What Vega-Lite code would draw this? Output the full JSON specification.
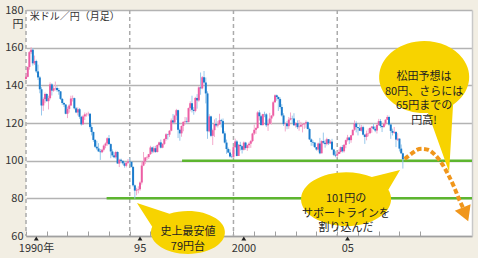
{
  "$schema": "https://vega.github.io/schema/vega-lite/v6.json",
  "width": 446,
  "height": 226,
  "autosize": {"type": "none"},
  "padding": {"left": 26, "top": 10, "right": 6, "bottom": 22},
  "background": "#f2eee3",
  "config": {"view": {"fill": "#ffffff", "stroke": null}, "font": "Noto Sans CJK JP"},
  "datasets": {
    "candles": [
      {"t":"1990-01","o":143.4,"h":146.3,"l":143.1,"c":144.5},
      {"t":"1990-02","o":144.5,"h":150.0,"l":144.2,"c":149.7},
      {"t":"1990-03","o":149.7,"h":158.3,"l":148.3,"c":157.6},
      {"t":"1990-04","o":157.6,"h":160.3,"l":156.6,"c":158.9},
      {"t":"1990-05","o":158.9,"h":159.8,"l":150.5,"c":151.7},
      {"t":"1990-06","o":151.7,"h":155.8,"l":150.8,"c":152.9},
      {"t":"1990-07","o":152.9,"h":153.6,"l":146.5,"c":147.4},
      {"t":"1990-08","o":147.4,"h":151.0,"l":142.8,"c":144.2},
      {"t":"1990-09","o":144.2,"h":145.0,"l":135.8,"c":137.9},
      {"t":"1990-10","o":137.9,"h":139.0,"l":124.0,"c":129.3},
      {"t":"1990-11","o":129.3,"h":133.6,"l":126.4,"c":132.7},
      {"t":"1990-12","o":132.7,"h":136.2,"l":130.5,"c":135.4},
      {"t":"1991-01","o":135.4,"h":135.8,"l":131.3,"c":131.6},
      {"t":"1991-02","o":131.6,"h":134.5,"l":127.2,"c":133.2},
      {"t":"1991-03","o":133.2,"h":141.6,"l":132.5,"c":140.5},
      {"t":"1991-04","o":140.5,"h":141.1,"l":134.6,"c":137.2},
      {"t":"1991-05","o":137.2,"h":140.2,"l":136.6,"c":138.4},
      {"t":"1991-06","o":138.4,"h":142.0,"l":137.3,"c":138.6},
      {"t":"1991-07","o":138.6,"h":139.6,"l":136.6,"c":137.5},
      {"t":"1991-08","o":137.5,"h":138.6,"l":135.0,"c":136.8},
      {"t":"1991-09","o":136.8,"h":136.9,"l":132.2,"c":132.8},
      {"t":"1991-10","o":132.8,"h":133.3,"l":129.6,"c":130.6},
      {"t":"1991-11","o":130.6,"h":131.0,"l":128.5,"c":129.8},
      {"t":"1991-12","o":129.8,"h":130.1,"l":124.6,"c":124.9},
      {"t":"1992-01","o":124.9,"h":128.7,"l":122.6,"c":127.5},
      {"t":"1992-02","o":127.5,"h":130.0,"l":125.5,"c":129.3},
      {"t":"1992-03","o":129.3,"h":134.5,"l":129.0,"c":133.0},
      {"t":"1992-04","o":133.0,"h":134.6,"l":131.4,"c":133.2},
      {"t":"1992-05","o":133.2,"h":133.5,"l":127.2,"c":127.8},
      {"t":"1992-06","o":127.8,"h":128.5,"l":125.2,"c":125.6},
      {"t":"1992-07","o":125.6,"h":128.3,"l":124.0,"c":127.3},
      {"t":"1992-08","o":127.3,"h":128.0,"l":122.2,"c":123.3},
      {"t":"1992-09","o":123.3,"h":123.8,"l":118.6,"c":119.3},
      {"t":"1992-10","o":119.3,"h":124.3,"l":119.0,"c":123.5},
      {"t":"1992-11","o":123.5,"h":125.6,"l":121.6,"c":124.6},
      {"t":"1992-12","o":124.6,"h":125.4,"l":123.4,"c":124.7},
      {"t":"1993-01","o":124.7,"h":126.0,"l":123.6,"c":124.9},
      {"t":"1993-02","o":124.9,"h":125.3,"l":117.0,"c":117.9},
      {"t":"1993-03","o":117.9,"h":119.3,"l":113.4,"c":115.2},
      {"t":"1993-04","o":115.2,"h":115.5,"l":110.0,"c":111.0},
      {"t":"1993-05","o":111.0,"h":111.5,"l":106.8,"c":107.4},
      {"t":"1993-06","o":107.4,"h":110.5,"l":105.6,"c":106.5},
      {"t":"1993-07","o":106.5,"h":109.3,"l":104.7,"c":104.9},
      {"t":"1993-08","o":104.9,"h":106.2,"l":100.4,"c":104.5},
      {"t":"1993-09","o":104.5,"h":106.3,"l":104.0,"c":105.8},
      {"t":"1993-10","o":105.8,"h":108.6,"l":104.9,"c":108.0},
      {"t":"1993-11","o":108.0,"h":109.7,"l":106.6,"c":109.1},
      {"t":"1993-12","o":109.1,"h":112.4,"l":107.9,"c":111.9},
      {"t":"1994-01","o":111.9,"h":113.6,"l":108.3,"c":108.8},
      {"t":"1994-02","o":108.8,"h":109.2,"l":101.3,"c":104.9},
      {"t":"1994-03","o":104.9,"h":106.0,"l":101.9,"c":102.8},
      {"t":"1994-04","o":102.8,"h":104.4,"l":101.3,"c":101.8},
      {"t":"1994-05","o":101.8,"h":105.3,"l":101.1,"c":104.6},
      {"t":"1994-06","o":104.6,"h":105.0,"l":98.3,"c":98.5},
      {"t":"1994-07","o":98.5,"h":101.0,"l":96.6,"c":100.5},
      {"t":"1994-08","o":100.5,"h":101.1,"l":98.7,"c":99.9},
      {"t":"1994-09","o":99.9,"h":100.1,"l":97.9,"c":98.6},
      {"t":"1994-10","o":98.6,"h":99.4,"l":96.3,"c":97.3},
      {"t":"1994-11","o":97.3,"h":99.3,"l":96.4,"c":98.9},
      {"t":"1994-12","o":98.9,"h":100.9,"l":98.3,"c":99.6},
      {"t":"1995-01","o":99.6,"h":101.5,"l":98.0,"c":99.4},
      {"t":"1995-02","o":99.4,"h":99.5,"l":96.4,"c":96.7},
      {"t":"1995-03","o":96.7,"h":97.0,"l":86.2,"c":86.9},
      {"t":"1995-04","o":86.9,"h":87.3,"l":79.8,"c":84.1},
      {"t":"1995-05","o":84.1,"h":85.6,"l":81.6,"c":84.5},
      {"t":"1995-06","o":84.5,"h":86.4,"l":82.6,"c":84.8},
      {"t":"1995-07","o":84.8,"h":89.0,"l":84.0,"c":88.4},
      {"t":"1995-08","o":88.4,"h":99.5,"l":87.3,"c":97.4},
      {"t":"1995-09","o":97.4,"h":104.6,"l":97.1,"c":99.6},
      {"t":"1995-10","o":99.6,"h":101.9,"l":98.2,"c":101.7},
      {"t":"1995-11","o":101.7,"h":102.6,"l":100.4,"c":101.9},
      {"t":"1995-12","o":101.9,"h":103.6,"l":100.9,"c":103.5},
      {"t":"1996-01","o":103.5,"h":107.9,"l":103.0,"c":107.0},
      {"t":"1996-02","o":107.0,"h":107.4,"l":103.9,"c":104.8},
      {"t":"1996-03","o":104.8,"h":107.7,"l":104.0,"c":106.6},
      {"t":"1996-04","o":106.6,"h":107.9,"l":104.1,"c":104.6},
      {"t":"1996-05","o":104.6,"h":108.7,"l":104.3,"c":108.3},
      {"t":"1996-06","o":108.3,"h":110.1,"l":107.6,"c":109.7},
      {"t":"1996-07","o":109.7,"h":111.2,"l":106.5,"c":106.9},
      {"t":"1996-08","o":106.9,"h":109.3,"l":106.6,"c":108.9},
      {"t":"1996-09","o":108.9,"h":111.9,"l":108.3,"c":111.5},
      {"t":"1996-10","o":111.5,"h":114.6,"l":110.6,"c":114.0},
      {"t":"1996-11","o":114.0,"h":114.3,"l":111.2,"c":113.8},
      {"t":"1996-12","o":113.8,"h":116.2,"l":112.6,"c":115.9},
      {"t":"1997-01","o":115.9,"h":122.4,"l":115.6,"c":121.4},
      {"t":"1997-02","o":121.4,"h":124.8,"l":119.8,"c":120.3},
      {"t":"1997-03","o":120.3,"h":124.4,"l":119.9,"c":123.9},
      {"t":"1997-04","o":123.9,"h":127.5,"l":121.6,"c":126.8},
      {"t":"1997-05","o":126.8,"h":127.1,"l":112.0,"c":116.4},
      {"t":"1997-06","o":116.4,"h":117.0,"l":110.6,"c":114.5},
      {"t":"1997-07","o":114.5,"h":118.7,"l":112.7,"c":118.4},
      {"t":"1997-08","o":118.4,"h":120.9,"l":115.6,"c":120.6},
      {"t":"1997-09","o":120.6,"h":123.2,"l":119.1,"c":120.9},
      {"t":"1997-10","o":120.9,"h":123.0,"l":119.7,"c":120.5},
      {"t":"1997-11","o":120.5,"h":128.2,"l":120.3,"c":127.9},
      {"t":"1997-12","o":127.9,"h":131.5,"l":126.2,"c":130.5},
      {"t":"1998-01","o":130.5,"h":134.5,"l":125.6,"c":127.0},
      {"t":"1998-02","o":127.0,"h":128.5,"l":124.4,"c":126.4},
      {"t":"1998-03","o":126.4,"h":133.9,"l":125.7,"c":133.3},
      {"t":"1998-04","o":133.3,"h":135.3,"l":127.6,"c":132.0},
      {"t":"1998-05","o":132.0,"h":139.5,"l":131.3,"c":138.9},
      {"t":"1998-06","o":138.9,"h":146.8,"l":135.0,"c":138.4},
      {"t":"1998-07","o":138.4,"h":144.9,"l":137.9,"c":144.3},
      {"t":"1998-08","o":144.3,"h":147.6,"l":140.9,"c":141.5},
      {"t":"1998-09","o":141.5,"h":144.2,"l":130.4,"c":135.7},
      {"t":"1998-10","o":135.7,"h":136.8,"l":111.6,"c":115.6},
      {"t":"1998-11","o":115.6,"h":124.7,"l":115.0,"c":123.5},
      {"t":"1998-12","o":123.5,"h":123.9,"l":112.5,"c":113.2},
      {"t":"1999-01","o":113.2,"h":117.0,"l":108.3,"c":116.2},
      {"t":"1999-02","o":116.2,"h":121.9,"l":112.6,"c":119.5},
      {"t":"1999-03","o":119.5,"h":122.6,"l":117.8,"c":118.7},
      {"t":"1999-04","o":118.7,"h":121.0,"l":117.6,"c":119.3},
      {"t":"1999-05","o":119.3,"h":124.9,"l":119.0,"c":121.5},
      {"t":"1999-06","o":121.5,"h":122.2,"l":117.6,"c":121.0},
      {"t":"1999-07","o":121.0,"h":122.4,"l":114.2,"c":114.5},
      {"t":"1999-08","o":114.5,"h":115.6,"l":109.1,"c":109.6},
      {"t":"1999-09","o":109.6,"h":111.2,"l":103.6,"c":106.2},
      {"t":"1999-10","o":106.2,"h":107.0,"l":104.0,"c":104.3},
      {"t":"1999-11","o":104.3,"h":106.0,"l":101.6,"c":102.2},
      {"t":"1999-12","o":102.2,"h":103.5,"l":101.3,"c":102.0},
      {"t":"2000-01","o":102.0,"h":107.5,"l":101.4,"c":107.2},
      {"t":"2000-02","o":107.2,"h":111.7,"l":106.8,"c":110.2},
      {"t":"2000-03","o":110.2,"h":110.9,"l":102.3,"c":102.5},
      {"t":"2000-04","o":102.5,"h":108.8,"l":103.6,"c":108.4},
      {"t":"2000-05","o":108.4,"h":110.0,"l":105.4,"c":107.7},
      {"t":"2000-06","o":107.7,"h":107.9,"l":103.8,"c":105.8},
      {"t":"2000-07","o":105.8,"h":110.2,"l":105.4,"c":109.6},
      {"t":"2000-08","o":109.6,"h":110.0,"l":105.8,"c":106.7},
      {"t":"2000-09","o":106.7,"h":108.6,"l":105.2,"c":108.2},
      {"t":"2000-10","o":108.2,"h":109.8,"l":106.6,"c":109.0},
      {"t":"2000-11","o":109.0,"h":111.0,"l":106.8,"c":110.4},
      {"t":"2000-12","o":110.4,"h":114.8,"l":109.8,"c":114.4},
      {"t":"2001-01","o":114.4,"h":119.2,"l":113.6,"c":116.4},
      {"t":"2001-02","o":116.4,"h":117.8,"l":114.2,"c":117.3},
      {"t":"2001-03","o":117.3,"h":126.2,"l":117.0,"c":125.6},
      {"t":"2001-04","o":125.6,"h":126.8,"l":121.3,"c":123.6},
      {"t":"2001-05","o":123.6,"h":124.3,"l":118.6,"c":118.9},
      {"t":"2001-06","o":118.9,"h":124.9,"l":118.6,"c":124.7},
      {"t":"2001-07","o":124.7,"h":126.0,"l":123.1,"c":124.6},
      {"t":"2001-08","o":124.6,"h":125.3,"l":117.9,"c":118.8},
      {"t":"2001-09","o":118.8,"h":121.8,"l":115.8,"c":119.6},
      {"t":"2001-10","o":119.6,"h":125.4,"l":119.4,"c":122.4},
      {"t":"2001-11","o":122.4,"h":124.2,"l":119.2,"c":123.9},
      {"t":"2001-12","o":123.9,"h":131.8,"l":123.3,"c":131.0},
      {"t":"2002-01","o":131.0,"h":135.2,"l":130.7,"c":134.7},
      {"t":"2002-02","o":134.7,"h":135.1,"l":131.8,"c":133.8},
      {"t":"2002-03","o":133.8,"h":134.1,"l":126.4,"c":132.7},
      {"t":"2002-04","o":132.7,"h":133.6,"l":127.6,"c":128.5},
      {"t":"2002-05","o":128.5,"h":130.0,"l":123.4,"c":124.0},
      {"t":"2002-06","o":124.0,"h":125.2,"l":118.4,"c":119.4},
      {"t":"2002-07","o":119.4,"h":120.3,"l":115.5,"c":119.8},
      {"t":"2002-08","o":119.8,"h":121.1,"l":116.7,"c":118.3},
      {"t":"2002-09","o":118.3,"h":123.2,"l":116.9,"c":121.8},
      {"t":"2002-10","o":121.8,"h":125.6,"l":121.4,"c":122.5},
      {"t":"2002-11","o":122.5,"h":123.9,"l":119.8,"c":122.4},
      {"t":"2002-12","o":122.4,"h":125.2,"l":118.5,"c":118.8},
      {"t":"2003-01","o":118.8,"h":120.5,"l":117.6,"c":119.9},
      {"t":"2003-02","o":119.9,"h":121.4,"l":116.8,"c":117.8},
      {"t":"2003-03","o":117.8,"h":121.6,"l":115.9,"c":118.1},
      {"t":"2003-04","o":118.1,"h":120.6,"l":117.8,"c":119.0},
      {"t":"2003-05","o":119.0,"h":119.8,"l":115.0,"c":119.3},
      {"t":"2003-06","o":119.3,"h":120.0,"l":116.9,"c":119.8},
      {"t":"2003-07","o":119.8,"h":121.4,"l":117.4,"c":120.4},
      {"t":"2003-08","o":120.4,"h":120.8,"l":116.6,"c":116.8},
      {"t":"2003-09","o":116.8,"h":117.5,"l":110.9,"c":111.3},
      {"t":"2003-10","o":111.3,"h":111.8,"l":107.9,"c":109.9},
      {"t":"2003-11","o":109.9,"h":110.8,"l":107.9,"c":109.6},
      {"t":"2003-12","o":109.6,"h":109.9,"l":106.8,"c":107.2},
      {"t":"2004-01","o":107.2,"h":107.2,"l":105.3,"c":105.9},
      {"t":"2004-02","o":105.9,"h":109.6,"l":104.8,"c":109.1},
      {"t":"2004-03","o":109.1,"h":112.1,"l":103.4,"c":103.9},
      {"t":"2004-04","o":103.9,"h":110.8,"l":103.9,"c":110.4},
      {"t":"2004-05","o":110.4,"h":114.9,"l":108.8,"c":109.5},
      {"t":"2004-06","o":109.5,"h":111.1,"l":106.9,"c":108.8},
      {"t":"2004-07","o":108.8,"h":112.2,"l":108.1,"c":111.4},
      {"t":"2004-08","o":111.4,"h":111.5,"l":108.3,"c":109.2},
      {"t":"2004-09","o":109.2,"h":111.0,"l":108.8,"c":110.1},
      {"t":"2004-10","o":110.1,"h":111.6,"l":105.6,"c":105.9},
      {"t":"2004-11","o":105.9,"h":106.3,"l":102.4,"c":103.1},
      {"t":"2004-12","o":103.1,"h":105.0,"l":101.8,"c":102.7},
      {"t":"2005-01","o":102.7,"h":104.8,"l":101.7,"c":103.6},
      {"t":"2005-02","o":103.6,"h":106.0,"l":103.6,"c":104.6},
      {"t":"2005-03","o":104.6,"h":107.5,"l":103.8,"c":107.2},
      {"t":"2005-04","o":107.2,"h":108.3,"l":104.3,"c":105.0},
      {"t":"2005-05","o":105.0,"h":108.8,"l":104.3,"c":108.4},
      {"t":"2005-06","o":108.4,"h":111.2,"l":106.6,"c":110.9},
      {"t":"2005-07","o":110.9,"h":113.7,"l":110.2,"c":112.3},
      {"t":"2005-08","o":112.3,"h":112.7,"l":108.8,"c":110.9},
      {"t":"2005-09","o":110.9,"h":113.7,"l":109.5,"c":113.5},
      {"t":"2005-10","o":113.5,"h":116.5,"l":113.3,"c":116.4},
      {"t":"2005-11","o":116.4,"h":121.4,"l":115.9,"c":119.8},
      {"t":"2005-12","o":119.8,"h":120.9,"l":115.0,"c":117.8},
      {"t":"2006-01","o":117.8,"h":117.9,"l":113.4,"c":117.3},
      {"t":"2006-02","o":117.3,"h":119.4,"l":115.8,"c":115.9},
      {"t":"2006-03","o":115.9,"h":119.0,"l":115.4,"c":117.8},
      {"t":"2006-04","o":117.8,"h":118.6,"l":113.4,"c":113.8},
      {"t":"2006-05","o":113.8,"h":114.1,"l":108.9,"c":112.6},
      {"t":"2006-06","o":112.6,"h":116.0,"l":110.8,"c":114.4},
      {"t":"2006-07","o":114.4,"h":117.1,"l":112.9,"c":114.6},
      {"t":"2006-08","o":114.6,"h":117.5,"l":114.1,"c":117.4},
      {"t":"2006-09","o":117.4,"h":118.4,"l":114.8,"c":118.1},
      {"t":"2006-10","o":118.1,"h":119.8,"l":116.4,"c":116.9},
      {"t":"2006-11","o":116.9,"h":118.2,"l":115.1,"c":116.0},
      {"t":"2006-12","o":116.0,"h":119.3,"l":114.4,"c":119.0},
      {"t":"2007-01","o":119.0,"h":122.2,"l":118.5,"c":121.0},
      {"t":"2007-02","o":121.0,"h":122.1,"l":117.5,"c":118.4},
      {"t":"2007-03","o":118.4,"h":118.6,"l":115.2,"c":117.8},
      {"t":"2007-04","o":117.8,"h":120.0,"l":117.6,"c":119.6},
      {"t":"2007-05","o":119.6,"h":122.0,"l":118.7,"c":121.7},
      {"t":"2007-06","o":121.7,"h":124.1,"l":121.6,"c":123.2},
      {"t":"2007-07","o":123.2,"h":123.9,"l":118.6,"c":119.2},
      {"t":"2007-08","o":119.2,"h":119.8,"l":111.6,"c":115.8},
      {"t":"2007-09","o":115.8,"h":117.0,"l":113.4,"c":114.8},
      {"t":"2007-10","o":114.8,"h":117.9,"l":114.2,"c":115.3},
      {"t":"2007-11","o":115.3,"h":115.4,"l":107.2,"c":111.2},
      {"t":"2007-12","o":111.2,"h":114.6,"l":110.4,"c":111.7},
      {"t":"2008-01","o":111.7,"h":111.8,"l":104.9,"c":106.4},
      {"t":"2008-02","o":106.4,"h":108.6,"l":103.6,"c":103.9},
      {"t":"2008-03","o":103.9,"h":104.2,"l":95.8,"c":100.8}
    ],
    "vgrid": [{"t":"1990-01-01"},{"t":"1995-01-01"},{"t":"2000-01-01"},{"t":"2005-01-01"}],
    "support": [
      {"t":"1993-11-20","t2":"2011-07-01","v":80},
      {"t":"1997-07-10","t2":"2011-07-01","v":100}
    ],
    "callouts": [
      {"id":"a","t":"1997-10-22","v":61.9,"s":"史上最安値\n79円台"},
      {"id":"b","t":"2005-06-05","v":79.6,"s":"101円の\nサポートラインを\n割り込んだ"},
      {"id":"c","t":"2009-03-10","v":144.4,"s":"松田予想は\n80円、さらには\n65円までの\n円高!"}
    ],
    "forecast": [
      {"t":"2008-04-01","v":100.9},
      {"t":"2008-08-07","v":103.9},
      {"t":"2008-11-02","v":105.7},
      {"t":"2009-01-30","v":106.3},
      {"t":"2009-05-26","v":105.7},
      {"t":"2009-09-20","v":103.0},
      {"t":"2010-01-15","v":98.6},
      {"t":"2010-05-11","v":92.4},
      {"t":"2010-08-22","v":85.9},
      {"t":"2010-11-21","v":79.1},
      {"t":"2011-01-26","v":74.9}
    ],
    "arrowhead": [{"t":"2011-03-08","v":71.5}],
    "marks5": [{"t":"1990-07-01","v":60},{"t":"1995-07-01","v":60},{"t":"2000-07-01","v":60},{"t":"2005-07-01","v":60}],
    "label": [{"t":"1990-03-10","v":176.3,"s":"米ドル／円（月足）"}]
  },
  "layer": [
    {
      "data": {"name": "vgrid"},
      "mark": {"type": "rule", "color": "#ababab", "strokeWidth": 1.5, "strokeDash": [4, 3]},
      "encoding": {
        "x": {
          "field": "t", "type": "temporal",
          "scale": {"type": "utc", "domain": [{"year":1990,"month":1,"date":1,"utc":true},{"year":2011,"month":7,"date":1,"utc":true}]},
          "axis": {
            "orient": "bottom",
            "values": [{"year":1990,"utc":true},{"year":1995,"utc":true},{"year":2000,"utc":true},{"year":2005,"utc":true}],
            "labelExpr": "utcyear(datum.value)==1990?'1990年':utcyear(datum.value)==1995?'95':utcyear(datum.value)==2000?'2000':'05'",
            "labelOffset": 10,
            "labelFlush": false,
            "labelOverlap": false,
            "labelBound": false,
            "labelFontSize": 11,
            "labelColor": "#333333",
            "labelBaseline": "top",
            "labelPadding": 6,
            "ticks": false,
            "tickSize": 0,
            "domain": false,
            "grid": false,
            "title": null
          }
        }
      }
    },
    {
      "data": {"name": "support"},
      "mark": {"type": "rule", "color": "#5db52f", "strokeWidth": 2.5},
      "encoding": {
        "x": {"field": "t", "type": "temporal", "axis": null},
        "x2": {"field": "t2"},
        "y": {
          "field": "v", "type": "quantitative",
          "scale": {"domain": [60, 180], "nice": false, "zero": false},
          "axis": {
            "values": [60, 80, 100, 120, 140, 160, 180],
            "grid": true, "gridColor": "#b3b3b3", "gridWidth": 1.5,
            "domain": false, "ticks": false,
            "labelPadding": 3, "labelFontSize": 11, "labelColor": "#333333",
            "title": "円", "titleAngle": 0, "titleX": -3, "titleY": 14,
            "titleAlign": "right", "titleBaseline": "middle",
            "titleFontSize": 11, "titleFontWeight": "normal", "titleColor": "#333333"
          }
        }
      }
    },
    {
      "data": {"name": "candles"},
      "mark": {"type": "rule", "strokeWidth": 1},
      "encoding": {
        "x": {
          "field": "t", "type": "temporal",
          "axis": {
            "orient": "bottom",
            "values": [{"year":1990,"utc":true},{"year":1991,"utc":true},{"year":1992,"utc":true},{"year":1993,"utc":true},{"year":1994,"utc":true},{"year":1995,"utc":true},{"year":1996,"utc":true},{"year":1997,"utc":true},{"year":1998,"utc":true},{"year":1999,"utc":true},{"year":2000,"utc":true},{"year":2001,"utc":true},{"year":2002,"utc":true},{"year":2003,"utc":true},{"year":2004,"utc":true},{"year":2005,"utc":true},{"year":2006,"utc":true},{"year":2007,"utc":true},{"year":2008,"utc":true},{"year":2009,"utc":true}],
            "labels": false,
            "ticks": true,
            "tickSize": -5,
            "tickColor": "#a0a0a0",
            "tickWidth": 1,
            "domain": true,
            "domainColor": "#a0a0a0",
            "domainWidth": 1.5,
            "grid": false,
            "title": null
          }
        },
        "y": {"field": "l", "type": "quantitative", "axis": {"orient": "right", "labels": false, "ticks": false, "grid": false, "domain": true, "domainColor": "#c8c8c8", "domainWidth": 1.5, "title": null}},
        "y2": {"field": "h"},
        "color": {"condition": {"test": "datum.c >= datum.o", "value": "#f4a9cb"}, "value": "#98c8ec"}
      }
    },
    {
      "data": {"name": "candles"},
      "mark": {"type": "rule", "strokeWidth": 2},
      "encoding": {
        "x": {"field": "t", "type": "temporal", "axis": null},
        "y": {"field": "o", "type": "quantitative", "axis": null},
        "y2": {"field": "c"},
        "color": {"condition": {"test": "datum.c >= datum.o", "value": "#ec5ea4"}, "value": "#1c7ccc"}
      }
    },
    {
      "data": {"name": "callouts"},
      "mark": {"type": "point", "filled": true, "color": "#f7d300", "opacity": 1, "size": 10000, "strokeWidth": 0},
      "encoding": {
        "x": {"field": "t", "type": "temporal", "axis": null},
        "y": {"field": "v", "type": "quantitative", "axis": null},
        "shape": {
          "field": "id", "type": "nominal", "legend": null,
          "scale": {
            "domain": ["a", "b", "c"],
            "range": [
              "M-0.715,-0.111L-1.02,-0.59L-0.37,-0.372A0.74,0.43,0,1,1,-0.715,-0.111Z",
              "M0.516,-0.442L1.08,-0.58L0.846,-0.185A0.9,0.54,0,1,1,0.516,-0.442Z",
              "M0.579,0.552L0.5,1.9L0.078,0.717A0.9,0.72,0,1,1,0.579,0.552Z"
            ]
          }
        }
      }
    },
    {
      "data": {"name": "callouts"},
      "mark": {"type": "text", "lineBreak": "\n", "lineHeight": 14.5, "align": "center", "baseline": "middle", "fontSize": 11, "color": "#222222"},
      "encoding": {
        "x": {"field": "t", "type": "temporal", "axis": null},
        "y": {"field": "v", "type": "quantitative", "axis": null},
        "text": {"field": "s", "type": "nominal"}
      }
    },
    {
      "data": {"name": "forecast"},
      "mark": {"type": "line", "interpolate": "monotone", "color": "#f0961b", "strokeWidth": 4, "strokeDash": [5, 2.5]},
      "encoding": {
        "x": {"field": "t", "type": "temporal", "axis": null},
        "y": {"field": "v", "type": "quantitative", "axis": null}
      }
    },
    {
      "data": {"name": "arrowhead"},
      "mark": {"type": "point", "shape": "triangle-up", "filled": true, "color": "#f0961b", "opacity": 1, "size": 289, "angle": 158},
      "encoding": {
        "x": {"field": "t", "type": "temporal", "axis": null},
        "y": {"field": "v", "type": "quantitative", "axis": null}
      }
    },
    {
      "data": {"name": "marks5"},
      "mark": {"type": "point", "shape": "triangle-up", "filled": true, "color": "#222222", "opacity": 1, "size": 24, "yOffset": 2.5},
      "encoding": {
        "x": {"field": "t", "type": "temporal", "axis": null},
        "y": {"field": "v", "type": "quantitative", "axis": null}
      }
    },
    {
      "data": {"name": "label"},
      "mark": {"type": "text", "align": "left", "baseline": "middle", "fontSize": 10, "color": "#333333"},
      "encoding": {
        "x": {"field": "t", "type": "temporal", "axis": null},
        "y": {"field": "v", "type": "quantitative", "axis": null},
        "text": {"field": "s", "type": "nominal"}
      }
    }
  ],
  "resolve": {"axis": {"x": "independent", "y": "independent"}}
}
